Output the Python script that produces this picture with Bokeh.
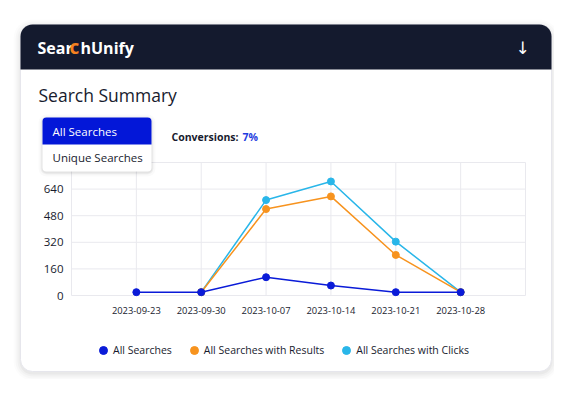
import pandas as pd
from bokeh.plotting import figure
from bokeh.models import (Range1d, BoxAnnotation, Label, Legend, LegendItem, ColumnDataSource)
from bokeh.core.properties import value
from bokeh.embed import file_html
from bokeh.resources import INLINE

# ---------------- data ----------------
dates = ["2023-09-23", "2023-09-30", "2023-10-07", "2023-10-14", "2023-10-21", "2023-10-28"]
all_searches = [20, 20, 110, 60, 20, 20]
with_results = [float("nan"), 20, 520, 596, 244, 20]
with_clicks = [float("nan"), 20, 574, 686, 324, 20]
y_ticks = [0, 160, 320, 480, 640, 800]
y_tick_labels = ["0", "160", "320", "480", "640", "800"]
x_edges = ["2023-09-16", "2023-11-04"]
series_names = ["All Searches", "All Searches with Results", "All Searches with Clicks"]
series_colors = ["#0a1bd8", "#f7931e", "#29b6e9"]
dropdown_items = ["All Searches", "Unique Searches"]
conversion_label = "Conversions:"
conversion_rate = "7%"
title_text = "Search Summary"

# ---------------- layout / style ----------------
FONT = "Open Sans"
DARK = "#181b2e"
GRID = "#e9e9ee"
W, H = 554, 379
CH_L, CH_R, CH_T, CH_B = 71, 525, 162, 295   # chart area in canvas pixels

def ms(s):
    return pd.Timestamp(s).value / 1e6

x_ms = [ms(d) for d in dates]
x_lo, x_hi = ms(x_edges[0]), ms(x_edges[1])
y_lo, y_hi = y_ticks[0], y_ticks[-1]
ppx = (CH_R - CH_L) / (x_hi - x_lo)
ppy = (CH_B - CH_T) / (y_hi - y_lo)

p = figure(width=W, height=H, output_backend="svg", toolbar_location=None,
           x_axis_location=None, y_axis_location=None,
           x_range=Range1d(x_lo - CH_L / ppx, x_hi + (W - CH_R) / ppx),
           y_range=Range1d(y_lo - (H - CH_B) / ppy, y_hi + CH_T / ppy),
           min_border=0)
p.min_border_left = p.min_border_right = p.min_border_top = p.min_border_bottom = 0
p.border_fill_color = "white"
p.background_fill_color = "white"
p.outline_line_color = None
p.grid.visible = False

# ---------------- card ----------------
def box(l, r, t, b, level="image", **kw):
    ba = BoxAnnotation(left=l, right=r, top=t, bottom=b,
                       left_units="canvas", right_units="canvas",
                       top_units="canvas", bottom_units="canvas", level=level, **kw)
    p.add_layout(ba)
    return ba

for i, a in [(7, 0.012), (5, 0.018), (3, 0.025), (1, 0.03)]:
    box(20 - i, 551 + i, 24 - i + 2, 371 + i + 2, fill_color="black", fill_alpha=a,
        line_color=None, border_radius=12 + i)
box(20, 551, 24, 371, fill_color="white", fill_alpha=1, line_color="#e6e6ec", line_alpha=1,
    line_width=1, border_radius=12)
box(20, 551, 24, 69, fill_color="#141a2e", fill_alpha=1, line_color=None,
    border_radius=(12, 12, 0, 0))

def label(xx, yy, text, size, color, style="normal", align="left", font=FONT, level="annotation"):
    lb = Label(x=xx, y=yy, x_units="canvas", y_units="canvas", text=text,
               text_font=font, text_font_size=size, text_color=color,
               text_font_style=style, text_align=align, text_baseline="middle", level=level)
    p.add_layout(lb)
    return lb

# header logo + arrow
label(37, 47, "Sear", "16px", "white", "bold")
label(69, 46, "c", "19px", "#f58220", "bold")
label(80, 47, "hUnify", "16px", "white", "bold")
label(522, 47, "\u2193", "17px", "white", "normal", "center", font="DejaVu Sans")

# title
label(38, 94, title_text, "17.5px", DARK)

# conversions
label(171, 136, conversion_label, "10.5px", DARK, "bold")
label(242, 136, conversion_rate, "10.5px", "#1f3ce0", "bold")

# ---------------- chart grid + tick labels (data coords) ----------------
n = len(y_ticks)
p.segment(x0=[x_lo] * n, x1=[x_hi] * n, y0=y_ticks, y1=y_ticks, line_color=GRID, line_width=1)
vx = [x_lo] + x_ms + [x_hi]
p.segment(x0=vx, x1=vx, y0=[y_lo] * len(vx), y1=[y_hi] * len(vx), line_color=GRID, line_width=1)

p.text(x=[x_lo] * n, y=y_ticks, text=y_tick_labels, x_offset=-8,
       text_align="right", text_baseline="middle", text_color=DARK,
       text_font=value(FONT), text_font_size=value("11.5px"))
p.text(x=x_ms, y=[y_lo] * len(x_ms), text=dates, y_offset=15,
       text_align="center", text_baseline="middle", text_color=DARK,
       text_font=value(FONT), text_font_size=value("9.4px"))

# ---------------- series (blue last so it is on top) ----------------
src = ColumnDataSource(dict(x=x_ms, a=all_searches, r=with_results, c=with_clicks))
renderers = {}
for key, name, color in [("c", series_names[2], series_colors[2]),
                         ("r", series_names[1], series_colors[1]),
                         ("a", series_names[0], series_colors[0])]:
    p.line("x", key, source=src, line_color=color, line_width=1.5)
    renderers[name] = p.scatter("x", key, source=src, size=7, fill_color=color, line_color=color)

legend = Legend(items=[LegendItem(label=nm, renderers=[renderers[nm]]) for nm in series_names],
                orientation="horizontal", location=(93, 19),
                glyph_width=20, glyph_height=20, label_standoff=0, spacing=12,
                padding=0, margin=0, border_line_color=None, background_fill_alpha=0,
                label_text_font=FONT, label_text_font_size="10.5px", label_text_color=DARK)
p.add_layout(legend)

# ---------------- dropdown (overlay) ----------------
for i, a in [(4, 0.02), (2, 0.04), (1, 0.05)]:
    box(42 - i, 151 + i, 117 - i + 1, 171 + i + 1, level="overlay", fill_color="black",
        fill_alpha=a, line_color=None, border_radius=4 + i)
box(42, 151, 117, 171, level="overlay", fill_color="white", fill_alpha=1, line_color=None,
    border_radius=4)
box(42, 151, 117, 144, level="overlay", fill_color="#0317d8", fill_alpha=1, line_color=None,
    border_radius=(4, 4, 0, 0))
label(52, 131, dropdown_items[0], "11.5px", "white", level="overlay")
label(52, 157, dropdown_items[1], "11.5px", DARK, level="overlay")

open("out.html", "w").write(file_html(p, INLINE))
